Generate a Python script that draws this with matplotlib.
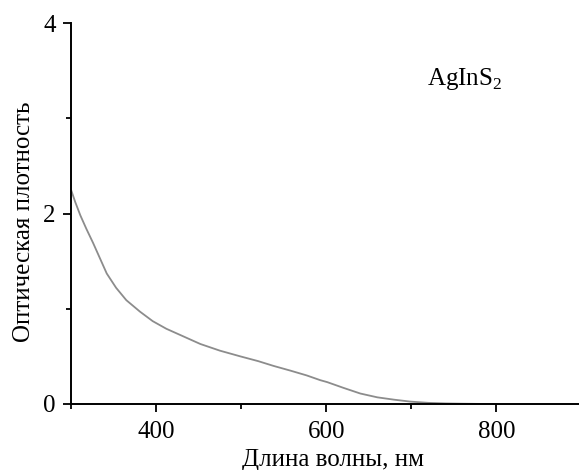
import matplotlib.pyplot as plt
from matplotlib.ticker import MultipleLocator

# данные спектра поглощения AgInS2
wavelength = [300, 305, 311, 318, 326, 334, 342, 353, 365, 381, 396, 412, 432, 452, 475,
              499, 520, 538, 558, 577, 593, 601, 620, 640, 660, 680, 699, 720, 740, 760, 780, 800]
absorbance = [2.25, 2.12, 1.98, 1.84, 1.69, 1.53, 1.37, 1.22, 1.09, 0.97, 0.87, 0.79, 0.71, 0.63, 0.56,
              0.50, 0.45, 0.40, 0.35, 0.30, 0.25, 0.23, 0.17, 0.11, 0.07, 0.045, 0.025, 0.012, 0.006, 0.003, 0.001, 0.0]

plt.rcParams['font.family'] = ['Liberation Serif', 'DejaVu Serif']
plt.rcParams['mathtext.fontset'] = 'custom'
plt.rcParams['mathtext.rm'] = 'Liberation Serif'

fig = plt.figure(figsize=(5.79, 4.70), dpi=100)
ax = fig.add_axes([71 / 579, 1 - 404 / 470, 1 - 71 / 579, (404 - 23) / 470])

ax.plot(wavelength, absorbance, color='#8c8c8c', linewidth=1.3)

ax.set_xlim(300, 897)
ax.set_ylim(0, 4)
ax.xaxis.set_minor_locator(MultipleLocator(100))
ax.yaxis.set_major_locator(MultipleLocator(2))
ax.yaxis.set_minor_locator(MultipleLocator(1))
ax.set_xticks([400, 600, 800])

for s in ['top', 'right']:
    ax.spines[s].set_visible(False)
for s in ['left', 'bottom']:
    ax.spines[s].set_linewidth(1.4)
ax.tick_params(which='major', length=6, width=1.3, labelsize=18, direction='out', pad=5)
ax.tick_params(axis='x', which='major', pad=6.5)
ax.tick_params(which='minor', length=3.5, width=1.3, direction='out')

ax.set_xlabel('Длина волны, нм', fontsize=18)
ax.set_ylabel('Оптическая плотность', fontsize=18)
ax.xaxis.set_label_coords(0.516, -0.119)
ax.yaxis.set_label_coords(-0.071, 0.478)

ax.text(718, 3.35, r'AgInS$_\mathrm{2}$', fontsize=18, ha='left', va='baseline')

fig.savefig('out.png', dpi=100)
